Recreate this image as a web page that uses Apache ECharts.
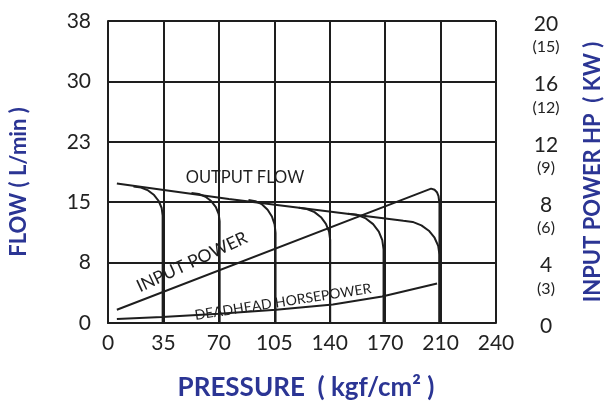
<!DOCTYPE html>
<html>
<head>
<meta charset="utf-8">
<script src="https://cdn.jsdelivr.net/npm/echarts@6/dist/echarts.min.js"></script>
<style>html,body{margin:0;padding:0;background:#fff}#c{width:612px;height:406px}</style>
</head>
<body>
<div id="c"></div>
<script>
// Tick labels
const pressureTicks = ['0','35','70','105','140','170','210','240'];
const flowTicks = ['0','8','15','23','30','38'];
const hpTicks = ['0','4','8','12','16','20'];
const kwTicks = ['','(3)','(6)','(9)','(12)','(15)'];

// Flow curves [pressure, L/min]
const outputFlow = [[5.6,17.54],[76.3,15.6],[186.5,12.86],[192.4,12.72],[197.9,12.29],[202.6,11.61],[206.2,10.73],[208.5,9.70],[209.3,8.6],[209.3,0]];
const relief35 = [[16.1,17.17],[20.9,17.05],[25.3,16.68],[29.1,16.10],[32.0,15.35],[33.9,14.47],[34.5,13.52],[34.5,0]];
const relief70 = [[52.7,16.36],[57.3,16.24],[61.6,15.88],[65.3,15.31],[68.1,14.58],[69.9,13.71],[70.5,12.79],[70.5,0]];
const relief105 = [[88.7,15.47],[93.1,15.33],[97.3,14.92],[100.8,14.26],[103.5,13.40],[105.2,12.40],[105.8,11.33],[105.8,0]];
const relief140 = [[120.5,14.49],[125.6,14.35],[130.4,13.95],[134.5,13.31],[137.6,12.48],[139.6,11.51],[140.3,10.47],[140.3,0]];
const relief175 = [[151.5,13.76],[157.3,13.61],[162.8,13.16],[167.4,12.44],[171.0,11.51],[173.2,10.43],[174,9.26],[174,0]];

// Power curves [pressure, HP]
const inputPower = [[5.6,0.88],[204,8.9],[206.2,8.82],[207.7,8.66],[208.7,8.4],[209.3,7.9],[209.3,0]];
const deadheadHP = [[5.6,0.26],[34.1,0.40],[70.1,0.61],[106.1,0.87],[142,1.22],[173.1,1.75],[207.8,2.61]];

const FONT = 'Lato';
const BLUE = '#2b3594';
const INK = '#1e1e1e';

const chart = echarts.init(document.getElementById('c'), null, {renderer:'canvas'});
const lineStyle = {color: INK, width: 2};
function mk(name, data, yi){
  return {name, type:'line', data, yAxisIndex: yi||0, symbol:'none', smooth:false,
    lineStyle, silent:true, animation:false};
}
chart.setOption({
  animation:false,
  textStyle:{fontFamily:FONT},
  grid:{left:107, right:110, top:21, bottom:73},
  xAxis:{
    type:'value', min:0, max:245, interval:35,
    name:'PRESSURE  ( kgf/cm² )', nameLocation:'middle', nameGap:52,
    nameTextStyle:{color:BLUE, fontWeight:'bold', fontSize:26, fontFamily:FONT, padding:[0,0,0,8]},
    axisLine:{show:true, lineStyle:{color:INK, width:2}},
    axisTick:{show:false},
    splitLine:{show:true, lineStyle:{color:INK, width:2}},
    axisLabel:{color:'#222', fontSize:21, fontFamily:FONT, margin:10,
      formatter:v=>pressureTicks[Math.round(v/35)]}
  },
  yAxis:[{
    type:'value', min:0, max:38, interval:7.6,
    name:'FLOW ( L/min )', nameLocation:'middle', nameRotate:90, nameGap:78,
    nameTextStyle:{color:BLUE, fontWeight:'bold', fontSize:22, fontFamily:FONT, padding:[0,20,0,0]},
    axisLine:{show:true, lineStyle:{color:INK, width:2}},
    axisTick:{show:false},
    splitLine:{show:true, lineStyle:{color:INK, width:2}},
    axisLabel:{color:'#222', fontSize:21, fontFamily:FONT, margin:17, padding:[0,0,14,0],
      formatter:v=>flowTicks[Math.round(v/7.6)]}
  },{
    type:'value', min:0, max:20, interval:4, position:'right',
    name:'INPUT POWER HP  ( KW )', nameLocation:'middle', nameRotate:90, nameGap:86,
    nameTextStyle:{color:BLUE, fontWeight:'bold', fontSize:22, fontFamily:FONT},
    axisLine:{show:false}, axisTick:{show:false}, splitLine:{show:false},
    axisLabel:{margin:50, align:'center', padding:[30,0,0,0],
      formatter:v=>{const i=Math.round(v/4); return '{a|'+hpTicks[i]+'}\n{b|'+(kwTicks[i]||' ')+'}';},
      rich:{a:{fontSize:21, lineHeight:22, color:'#222', fontFamily:FONT, align:'center'},
            b:{fontSize:16, lineHeight:24, color:'#222', fontFamily:FONT, align:'center'}}}
  }],
  graphic:[
    {type:'text', x:245, y:178, style:{text:'OUTPUT FLOW', fill:INK, font:'16.5px '+FONT, textAlign:'center', textVerticalAlign:'middle'}, silent:true},
    {type:'text', x:192, y:262, rotation:0.436, style:{text:'INPUT POWER', fill:INK, font:'17.5px '+FONT, textAlign:'center', textVerticalAlign:'middle'}, silent:true},
    {type:'text', x:283, y:302, rotation:0.152, style:{text:'DEADHEAD HORSEPOWER', fill:INK, font:'14px '+FONT, textAlign:'center', textVerticalAlign:'middle'}, silent:true}
  ],
  series:[
    mk('OUTPUT FLOW', outputFlow),
    mk('RELIEF 35', relief35),
    mk('RELIEF 70', relief70),
    mk('RELIEF 105', relief105),
    mk('RELIEF 140', relief140),
    mk('RELIEF 175', relief175),
    mk('INPUT POWER', inputPower, 1),
    mk('DEADHEAD HORSEPOWER', deadheadHP, 1)
  ]
});
</script>
</body>
</html>
